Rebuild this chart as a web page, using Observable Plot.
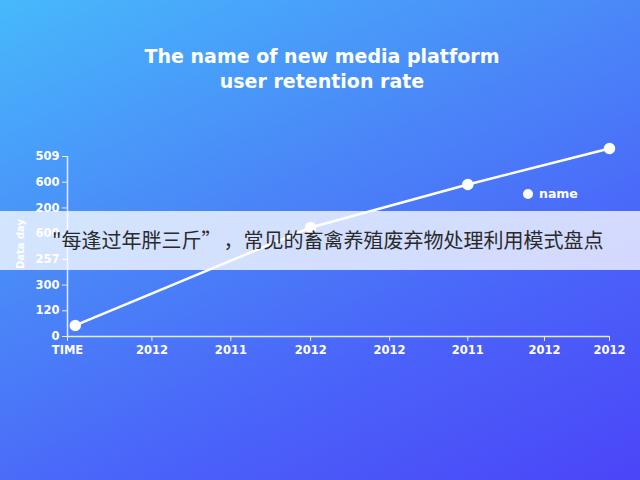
<!DOCTYPE html>
<html>
<head>
<meta charset="utf-8">
<script src="https://cdn.jsdelivr.net/npm/d3@7"></script>
<script src="https://cdn.jsdelivr.net/npm/@observablehq/plot@0.6"></script>
<style>
  html, body { margin: 0; padding: 0; }
  #root {
    position: relative; width: 640px; height: 480px; overflow: hidden;
    background: linear-gradient(155deg, #47b9fb 0%, #4a86f8 40%, #4a62f9 70%, #4b45f8 100%);
    font-family: "DejaVu Sans", sans-serif;
  }
  #title {
    position: absolute; left: 0; top: 44px; width: 644px; text-align: center;
    color: #fff; font-weight: bold; font-size: 19px; line-height: 25px;
  }
  #chart { position: absolute; left: 0; top: 130px; }
  #ytitle {
    position: absolute; left: 20px; top: 244px; color: #fff; font-weight: bold; font-size: 10px;
    transform: translate(-50%, -50%) rotate(-90deg); white-space: nowrap;
  }
  #legend {
    position: absolute; left: 523px; top: 186px; color: #fff; font-weight: bold;
    font-size: 12.5px; display: flex; align-items: center; gap: 6px;
  }
  #legend .dot { width: 10px; height: 10px; border-radius: 50%; background: #fff; }
  #banner {
    position: absolute; left: 0; top: 211px; width: 640px; height: 59px;
    background: rgba(255,255,255,0.76);
  }
  #banner > span {
    position: absolute; left: 52px; top: 14px; font-size: 20px; color: #2a2a2a;
    font-family: "Noto Sans CJK SC", sans-serif; white-space: pre; line-height: 30px;
  }
  #banner i { display: inline-block; width: 2px; }
</style>
</head>
<body>
<div id="root">
  <div id="title">The name of new media platform<br>user retention rate</div>
  <div id="chart"></div>
  <div id="ytitle"></div>
  <div id="legend"><div class="dot"></div><span id="legendName"></span></div>
  <div id="banner"><span>"每逢过年胖三斤”<i></i>，常见的畜禽养殖废弃物处理利用模式盘点</span></div>
</div>
<script>
const xLabels = ["TIME", "2012", "2011", "2012", "2012", "2011", "2012", "2012"];
const xTickPos = [0, 1.09, 2.11, 3.14, 4.16, 5.17, 6.16, 7];
const yLabels = ["0", "120", "300", "257", "600", "200", "600", "509"];
const yTickPos = [0, 1, 2, 3, 4, 5, 6, 7];
const seriesX = [0.1, 3.14, 5.17, 7];
const seriesY = [0.43, 4.24, 5.91, 7.31];
const seriesName = "name";
const yTitle = "Data day";

document.getElementById("ytitle").textContent = yTitle;
document.getElementById("legendName").textContent = seriesName;

const data = seriesX.map((x, i) => ({x, y: seriesY[i], name: seriesName}));

const chart = Plot.plot({
  width: 640,
  height: 250,
  marginLeft: 67,
  marginRight: 31,
  marginTop: 26,
  marginBottom: 44,
  style: {background: "transparent", color: "#fff", fontFamily: "DejaVu Sans", fontSize: "11.5px", fontWeight: "bold", overflow: "visible"},
  x: {domain: [0, 7]},
  y: {domain: [0, 7]},
  marks: [
    Plot.axisX({ticks: xTickPos, tickFormat: (d, i) => xLabels[i], tickSize: 5, tickPadding: 4, stroke: "#e4ecff", label: null}),
    Plot.axisY({ticks: yTickPos, tickFormat: (d, i) => yLabels[i], tickSize: 5, tickPadding: 3, stroke: "#e4ecff", label: null}),
    Plot.ruleX([0], {y1: 0, y2: 7, stroke: "#e4ecff", strokeWidth: 1.5}),
    Plot.ruleY([0], {x1: 0, x2: 7, stroke: "#e4ecff", strokeWidth: 1.5}),
    Plot.line(data, {x: "x", y: "y", stroke: "#fff", strokeWidth: 2.5}),
    Plot.dot(data, {x: "x", y: "y", r: 5, fill: "#fff", stroke: "#fff"})
  ]
});
document.getElementById("chart").appendChild(chart);
</script>
</body>
</html>
